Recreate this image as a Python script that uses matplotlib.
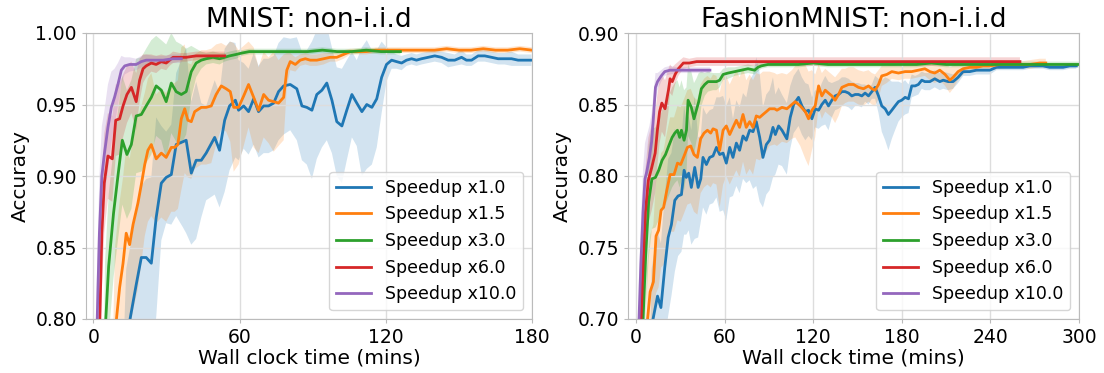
import matplotlib
matplotlib.use('Agg')
import matplotlib.pyplot as plt
import numpy as np

# ---- MNIST (non-i.i.d) : time in minutes, mean accuracy, std over runs ----
mnist_t_1 = [0, 13.5, 17.6, 19.7, 21.7, 23.8, 25.8, 27.9, 29.9, 32.0,
             34.0, 36.8, 38.1, 40.2, 42.2, 44.3, 46.3, 49.8, 51.8, 53.9,
             55.9, 58.3, 59.6, 61.7, 63.7, 65.8, 67.8, 69.9, 71.9, 74.0,
             76.0, 78.1, 80.8, 83.5, 85.6, 87.6, 89.7, 91.7, 93.8, 95.8,
             97.9, 99.9, 102.0, 104.0, 106.1, 108.1, 110.2, 112.2, 114.3, 116.3,
             118.3, 120.3, 122.4, 124.4, 126.5, 128.5, 130.6, 132.6, 134.7, 137.4,
             140.1, 142.9, 145.6, 148.3, 151.1, 153.1, 155.2, 157.9, 160.6, 163.4,
             166.1, 168.8, 171.6, 174.3, 177.0, 179.8]
mnist_acc_1 = [0.10, 0.785, 0.824, 0.843, 0.843, 0.839, 0.871, 0.895, 0.899, 0.901,
               0.922, 0.924, 0.925, 0.902, 0.911, 0.911, 0.916, 0.927, 0.918, 0.939,
               0.949, 0.953, 0.946, 0.949, 0.945, 0.954, 0.945, 0.949, 0.949, 0.951,
               0.959, 0.963, 0.964, 0.961, 0.949, 0.948, 0.946, 0.957, 0.960, 0.965,
               0.953, 0.938, 0.935, 0.946, 0.957, 0.951, 0.945, 0.950, 0.948, 0.954,
               0.969, 0.978, 0.981, 0.980, 0.979, 0.981, 0.982, 0.981, 0.982, 0.983,
               0.984, 0.983, 0.981, 0.981, 0.983, 0.981, 0.981, 0.984, 0.984, 0.983,
               0.982, 0.982, 0.982, 0.981, 0.981, 0.981]
mnist_std_1 = [0.05, 0.05, 0.05, 0.05, 0.055, 0.06, 0.07, 0.04, 0.032, 0.035,
               0.05, 0.06, 0.065, 0.05, 0.055, 0.04, 0.033, 0.04, 0.04, 0.05,
               0.045, 0.04, 0.035, 0.03, 0.03, 0.032, 0.032, 0.033, 0.033, 0.033,
               0.034, 0.034, 0.032, 0.036, 0.038, 0.04, 0.048, 0.045, 0.04, 0.04,
               0.037, 0.038, 0.04, 0.035, 0.03, 0.03, 0.045, 0.045, 0.04, 0.034,
               0.025, 0.012, 0.006, 0.005, 0.005, 0.004, 0.004, 0.004, 0.004, 0.004,
               0.004, 0.004, 0.005, 0.004, 0.005, 0.004, 0.004, 0.004, 0.004, 0.004,
               0.004, 0.004, 0.005, 0.004, 0.004, 0.004]

mnist_t_15 = [0, 8.9, 10.8, 12.2, 13.5, 14.9, 16.3, 18.3, 19.7, 21.1,
              22.4, 23.8, 25.8, 27.9, 29.9, 32.0, 33.4, 34.7, 36.1, 37.5,
              38.8, 40.2, 41.6, 44.3, 46.3, 48.4, 50.4, 52.5, 54.5, 56.2,
              57.6, 59.6, 61.7, 63.7, 65.8, 67.8, 69.9, 71.9, 74.0, 76.0,
              78.1, 79.4, 80.8, 82.9, 84.9, 87.0, 89.0, 91.7, 94.5, 97.2,
              99.9, 102.7, 105.4, 108.1, 112.0, 116.0, 120.0, 125.0, 130.0, 135.0,
              140.0, 145.0, 150.0, 155.0, 160.0, 165.0, 170.0, 175.0, 180.0]
mnist_acc_15 = [0.10, 0.79, 0.822, 0.839, 0.860, 0.852, 0.866, 0.881, 0.894, 0.908,
                0.918, 0.922, 0.912, 0.916, 0.913, 0.920, 0.920, 0.922, 0.940, 0.947,
                0.939, 0.938, 0.945, 0.948, 0.948, 0.949, 0.957, 0.963, 0.961, 0.959,
                0.948, 0.948, 0.956, 0.964, 0.955, 0.946, 0.957, 0.953, 0.952, 0.951,
                0.955, 0.974, 0.980, 0.978, 0.981, 0.982, 0.981, 0.981, 0.982, 0.983,
                0.983, 0.985, 0.987, 0.987, 0.987, 0.988, 0.988, 0.988, 0.988, 0.988,
                0.988, 0.989, 0.988, 0.988, 0.989, 0.988, 0.988, 0.989, 0.988]
mnist_std_15 = [0.06, 0.06, 0.06, 0.06, 0.06, 0.06, 0.06, 0.06, 0.055, 0.05,
                0.05, 0.05, 0.045, 0.045, 0.045, 0.045, 0.045, 0.045, 0.05, 0.045,
                0.04, 0.04, 0.04, 0.04, 0.04, 0.04, 0.035, 0.03, 0.03, 0.035,
                0.045, 0.04, 0.035, 0.03, 0.035, 0.03, 0.03, 0.03, 0.035, 0.03,
                0.03, 0.012, 0.006, 0.005, 0.004, 0.004, 0.004, 0.004, 0.004, 0.003,
                0.003, 0.003, 0.002, 0.002, 0.002, 0.002, 0.002, 0.002, 0.002, 0.002,
                0.002, 0.002, 0.002, 0.002, 0.002, 0.002, 0.002, 0.002, 0.002]

mnist_t_3 = [0, 4.8, 6.3, 8.3, 10.1, 11.9, 13.8, 15.6, 17.6, 19.7,
             21.7, 23.8, 25.8, 27.9, 29.9, 32.0, 34.0, 36.1, 38.1, 40.2,
             42.2, 44.3, 46.3, 49.1, 51.8, 53.9, 55.9, 58.6, 61.0, 64.0,
             70.0, 76.0, 82.0, 88.0, 94.0, 100.0, 106.0, 112.0, 118.0, 126.0]
mnist_acc_3 = [0.10, 0.79, 0.837, 0.874, 0.900, 0.925, 0.915, 0.922, 0.942, 0.943,
               0.949, 0.955, 0.963, 0.960, 0.952, 0.965, 0.959, 0.957, 0.959, 0.973,
               0.979, 0.981, 0.982, 0.983, 0.982, 0.983, 0.984, 0.985, 0.986, 0.987,
               0.987, 0.987, 0.987, 0.987, 0.988, 0.987, 0.987, 0.988, 0.987, 0.987]
mnist_std_3 = [0.05, 0.05, 0.05, 0.045, 0.045, 0.045, 0.045, 0.045, 0.04, 0.04,
               0.04, 0.04, 0.035, 0.035, 0.04, 0.035, 0.035, 0.035, 0.03, 0.018,
               0.01, 0.006, 0.004, 0.004, 0.004, 0.003, 0.003, 0.003, 0.002, 0.002,
               0.002, 0.002, 0.002, 0.002, 0.002, 0.002, 0.002, 0.002, 0.002, 0.002]

mnist_t_6 = [0, 2.4, 3.5, 4.5, 6.0, 7.8, 9.2, 10.8, 12.2, 13.8,
             15.6, 17.6, 19.0, 20.4, 21.7, 23.8, 25.8, 27.9, 29.9, 31.3,
             32.7, 35.5, 38.1, 42.2, 46.0, 50.0, 53.9]
mnist_acc_6 = [0.10, 0.78, 0.86, 0.895, 0.914, 0.912, 0.939, 0.940, 0.949, 0.957,
               0.962, 0.952, 0.967, 0.975, 0.977, 0.979, 0.978, 0.980, 0.979, 0.981,
               0.983, 0.983, 0.983, 0.984, 0.984, 0.984, 0.984]
mnist_std_6 = [0.04, 0.04, 0.04, 0.035, 0.03, 0.03, 0.025, 0.025, 0.022, 0.02,
               0.018, 0.02, 0.015, 0.01, 0.008, 0.006, 0.006, 0.005, 0.005, 0.004,
               0.004, 0.003, 0.003, 0.003, 0.003, 0.003, 0.003]

mnist_t_10 = [0, 1.3, 2.5, 3.5, 4.5, 6.0, 7.4, 8.7, 10.1, 11.5,
              12.9, 14.9, 17.6, 19.7, 21.7, 24.5, 28.6, 32.7, 36.1]
mnist_acc_10 = [0.10, 0.78, 0.86, 0.900, 0.915, 0.934, 0.948, 0.955, 0.964, 0.974,
                0.977, 0.978, 0.978, 0.980, 0.981, 0.981, 0.981, 0.982, 0.982]
mnist_std_10 = [0.04, 0.04, 0.04, 0.035, 0.03, 0.03, 0.025, 0.02, 0.015, 0.01,
                0.006, 0.005, 0.004, 0.004, 0.004, 0.003, 0.003, 0.003, 0.003]

# ---- FashionMNIST (non-i.i.d) ----
fmnist_t_1 = [0, 10.5, 14.5, 16.8, 19.4, 21.7, 23.9, 26.2, 28.4, 30.7,
              32.5, 34.0, 35.6, 37.4, 39.7, 42.0, 43.8, 45.3, 47.6, 49.8,
              52.1, 54.4, 56.6, 58.9, 61.1, 63.4, 65.6, 67.9, 70.1, 72.4,
              74.6, 76.9, 79.2, 81.4, 83.7, 85.9, 88.2, 90.4, 92.7, 94.3,
              96.5, 98.8, 102.1, 104.4, 106.7, 110.0, 112.3, 114.6, 116.8, 119.1,
              121.3, 123.6, 125.8, 128.1, 130.3, 132.6, 134.8, 137.1, 139.4, 141.6,
              143.9, 146.1, 148.4, 150.6, 152.9, 155.1, 157.4, 159.7, 161.9, 164.2,
              166.4, 168.7, 170.9, 173.2, 175.4, 177.7, 179.9, 182.2, 184.5, 186.7,
              189.0, 191.2, 193.5, 195.6, 199.0, 202.3, 205.7, 208.0, 211.4, 214.7,
              218.1, 221.5, 226.0, 230.5, 235.0, 239.6, 244.1, 248.6, 253.1, 257.6,
              262.1, 266.6, 271.1, 275.6, 280.1, 284.7, 289.2, 293.7, 298.2]
fmnist_acc_1 = [0.10, 0.695, 0.716, 0.708, 0.736, 0.757, 0.766, 0.783, 0.786, 0.787,
                0.804, 0.799, 0.802, 0.792, 0.806, 0.792, 0.798, 0.813, 0.808, 0.813,
                0.814, 0.820, 0.815, 0.816, 0.809, 0.820, 0.813, 0.823, 0.818, 0.828,
                0.825, 0.832, 0.831, 0.838, 0.827, 0.813, 0.822, 0.825, 0.834, 0.829,
                0.835, 0.832, 0.826, 0.841, 0.850, 0.855, 0.849, 0.845, 0.846, 0.840,
                0.847, 0.846, 0.850, 0.853, 0.849, 0.853, 0.856, 0.857, 0.859, 0.859,
                0.858, 0.856, 0.857, 0.857, 0.856, 0.858, 0.856, 0.859, 0.862, 0.856,
                0.849, 0.847, 0.843, 0.846, 0.849, 0.852, 0.853, 0.855, 0.854, 0.863,
                0.863, 0.864, 0.867, 0.866, 0.866, 0.868, 0.866, 0.867, 0.866, 0.866,
                0.869, 0.873, 0.873, 0.874, 0.874, 0.874, 0.876, 0.876, 0.876, 0.876,
                0.876, 0.877, 0.877, 0.877, 0.876, 0.876, 0.876, 0.877, 0.877]
fmnist_std_1 = [0.04, 0.04, 0.045, 0.045, 0.05, 0.055, 0.05, 0.05, 0.042, 0.04,
                0.045, 0.04, 0.04, 0.04, 0.05, 0.035, 0.03, 0.035, 0.035, 0.033,
                0.033, 0.035, 0.04, 0.04, 0.04, 0.035, 0.027, 0.03, 0.03, 0.03,
                0.03, 0.035, 0.04, 0.045, 0.045, 0.035, 0.035, 0.035, 0.035, 0.028,
                0.027, 0.025, 0.025, 0.022, 0.02, 0.02, 0.02, 0.02, 0.018, 0.015,
                0.013, 0.013, 0.015, 0.017, 0.017, 0.012, 0.01, 0.01, 0.01, 0.01,
                0.01, 0.01, 0.008, 0.008, 0.008, 0.006, 0.006, 0.005, 0.008, 0.012,
                0.018, 0.022, 0.025, 0.02, 0.017, 0.014, 0.012, 0.012, 0.01, 0.008,
                0.007, 0.007, 0.006, 0.006, 0.006, 0.006, 0.006, 0.006, 0.006, 0.005,
                0.004, 0.003, 0.003, 0.003, 0.003, 0.003, 0.002, 0.002, 0.002, 0.002,
                0.002, 0.002, 0.002, 0.002, 0.002, 0.002, 0.002, 0.002, 0.002]

fmnist_t_15 = [0, 7.3, 9.5, 11.7, 13.5, 15.2, 16.9, 18.6, 20.8, 23.0,
               25.7, 28.0, 30.2, 32.5, 34.7, 37.0, 39.2, 41.5, 43.7, 46.0,
               48.3, 50.5, 52.1, 54.4, 56.6, 58.9, 61.1, 63.4, 65.6, 67.9,
               70.1, 72.4, 74.6, 76.9, 79.2, 81.4, 83.7, 85.9, 88.2, 90.4,
               93.8, 95.4, 98.8, 102.1, 105.5, 107.8, 111.2, 114.6, 116.8, 119.1,
               121.3, 123.6, 125.8, 128.1, 130.3, 132.6, 134.8, 137.1, 139.4, 141.6,
               143.9, 147.3, 150.6, 154.0, 157.4, 159.7, 161.9, 164.2, 166.4, 169.8,
               173.2, 177.7, 182.2, 186.7, 191.2, 195.6, 199.0, 202.3, 205.7, 209.3,
               212.5, 214.7, 218.1, 221.5, 226.0, 230.5, 235.0, 239.6, 246.3, 253.1,
               259.9, 266.6, 273.4, 277.5]
fmnist_acc_15 = [0.10, 0.695, 0.719, 0.726, 0.758, 0.762, 0.776, 0.778, 0.790, 0.801,
                 0.801, 0.809, 0.808, 0.814, 0.820, 0.821, 0.815, 0.813, 0.826, 0.830,
                 0.832, 0.830, 0.833, 0.832, 0.818, 0.832, 0.835, 0.829, 0.834, 0.839,
                 0.834, 0.843, 0.834, 0.838, 0.834, 0.842, 0.841, 0.843, 0.845, 0.847,
                 0.847, 0.846, 0.848, 0.847, 0.850, 0.852, 0.849, 0.845, 0.840, 0.846,
                 0.849, 0.863, 0.856, 0.860, 0.858, 0.856, 0.853, 0.857, 0.862, 0.863,
                 0.864, 0.864, 0.862, 0.861, 0.863, 0.861, 0.860, 0.864, 0.870, 0.871,
                 0.873, 0.872, 0.873, 0.873, 0.874, 0.875, 0.873, 0.872, 0.874, 0.871,
                 0.867, 0.869, 0.873, 0.875, 0.876, 0.876, 0.877, 0.877, 0.878, 0.878,
                 0.878, 0.878, 0.879, 0.879]
fmnist_std_15 = [0.04, 0.04, 0.04, 0.04, 0.04, 0.04, 0.04, 0.04, 0.04, 0.04,
                 0.04, 0.04, 0.04, 0.04, 0.04, 0.04, 0.04, 0.04, 0.038, 0.038,
                 0.038, 0.038, 0.038, 0.038, 0.04, 0.038, 0.035, 0.035, 0.035, 0.035,
                 0.035, 0.033, 0.033, 0.033, 0.033, 0.03, 0.03, 0.03, 0.028, 0.026,
                 0.025, 0.025, 0.024, 0.024, 0.024, 0.025, 0.028, 0.033, 0.033, 0.028,
                 0.022, 0.015, 0.016, 0.015, 0.015, 0.015, 0.016, 0.015, 0.013, 0.012,
                 0.012, 0.012, 0.012, 0.012, 0.011, 0.011, 0.011, 0.01, 0.007, 0.006,
                 0.005, 0.005, 0.005, 0.005, 0.005, 0.005, 0.006, 0.007, 0.007, 0.008,
                 0.009, 0.008, 0.006, 0.004, 0.003, 0.003, 0.003, 0.003, 0.003, 0.002,
                 0.002, 0.003, 0.003, 0.003]

fmnist_t_3 = [0, 4.5, 6.5, 8.5, 10.7, 13.1, 15.3, 17.6, 19.9, 22.1,
              24.4, 26.2, 28.0, 29.5, 30.7, 32.5, 34.1, 35.2, 37.4, 39.2,
              40.8, 42.4, 44.2, 46.5, 48.7, 52.1, 54.4, 56.6, 58.9, 62.3,
              66.8, 71.3, 75.8, 80.3, 82.5, 84.8, 89.3, 100, 110, 120,
              130, 140, 150, 160, 170, 180, 190, 200, 210, 220,
              230, 240, 250, 260, 270, 280, 290, 300]
fmnist_acc_3 = [0.10, 0.695, 0.745, 0.782, 0.798, 0.799, 0.804, 0.811, 0.815, 0.821,
                0.827, 0.830, 0.832, 0.827, 0.832, 0.825, 0.832, 0.853, 0.848, 0.840,
                0.846, 0.852, 0.861, 0.864, 0.866, 0.866, 0.866, 0.867, 0.871, 0.872,
                0.873, 0.874, 0.875, 0.874, 0.876, 0.877, 0.878, 0.878, 0.878, 0.879,
                0.878, 0.878, 0.878, 0.878, 0.878, 0.878, 0.878, 0.879, 0.878, 0.878,
                0.878, 0.878, 0.878, 0.878, 0.878, 0.878, 0.878, 0.878]
fmnist_std_3 = [0.04, 0.04, 0.04, 0.04, 0.035, 0.035, 0.035, 0.035, 0.035, 0.035,
                0.035, 0.035, 0.035, 0.035, 0.035, 0.035, 0.03, 0.025, 0.025, 0.025,
                0.022, 0.02, 0.012, 0.008, 0.007, 0.006, 0.006, 0.005, 0.004, 0.004,
                0.003, 0.003, 0.003, 0.003, 0.003, 0.002, 0.002, 0.002, 0.002, 0.002,
                0.002, 0.002, 0.002, 0.002, 0.002, 0.002, 0.002, 0.002, 0.002, 0.002,
                0.002, 0.002, 0.002, 0.002, 0.002, 0.002, 0.002, 0.002]

fmnist_t_6 = [0, 3.2, 4.7, 6.3, 8.3, 10.6, 12.9, 14.4, 15.9, 17.4,
              19.6, 21.9, 23.0, 24.5, 26.4, 28.6, 32.0, 36.0, 41.0, 50,
              60, 70, 80, 90, 100, 110, 120, 130, 140, 150,
              160, 170, 180, 190, 200, 210, 220, 230, 240, 250,
              260]
fmnist_acc_6 = [0.10, 0.695, 0.738, 0.775, 0.797, 0.806, 0.816, 0.832, 0.845, 0.851,
                0.847, 0.860, 0.868, 0.866, 0.871, 0.875, 0.879, 0.879, 0.880, 0.880,
                0.880, 0.880, 0.880, 0.880, 0.880, 0.880, 0.880, 0.880, 0.880, 0.880,
                0.880, 0.880, 0.880, 0.880, 0.880, 0.880, 0.880, 0.880, 0.880, 0.880,
                0.880]
fmnist_std_6 = [0.03, 0.03, 0.03, 0.03, 0.03, 0.03, 0.028, 0.025, 0.022, 0.02,
                0.02, 0.015, 0.01, 0.01, 0.007, 0.005, 0.004, 0.003, 0.003, 0.003,
                0.003, 0.003, 0.003, 0.003, 0.003, 0.003, 0.003, 0.003, 0.003, 0.003,
                0.003, 0.003, 0.003, 0.003, 0.003, 0.003, 0.003, 0.003, 0.003, 0.003,
                0.003]

fmnist_t_10 = [0, 1.8, 3.2, 4.7, 6.0, 7.2, 9.0, 10.5, 12.0, 13.1,
               14.5, 17.0, 19.4, 23.0, 28.0, 35.0, 42.0, 50.0]
fmnist_acc_10 = [0.10, 0.695, 0.738, 0.775, 0.798, 0.803, 0.813, 0.824, 0.845, 0.862,
                 0.866, 0.870, 0.873, 0.874, 0.874, 0.874, 0.874, 0.874]
fmnist_std_10 = [0.03, 0.03, 0.03, 0.03, 0.025, 0.025, 0.022, 0.02, 0.015, 0.01,
                 0.006, 0.004, 0.003, 0.003, 0.002, 0.002, 0.002, 0.002]

labels = ['Speedup x1.0', 'Speedup x1.5', 'Speedup x3.0', 'Speedup x6.0', 'Speedup x10.0']


def draw(ax, runs, title, xlim, ylim, xticks, yticks):
    for (t, acc, std), lab in zip(runs, labels):
        t, acc, std = np.array(t), np.array(acc), np.array(std)
        line, = ax.plot(t, acc, linewidth=2, label=lab)
        ax.fill_between(t, acc - std, acc + std, color=line.get_color(), alpha=0.2, linewidth=0)
    ax.set_title(title, fontsize=19, pad=4)
    ax.set_xlabel('Wall clock time (mins)', fontsize=14.5, labelpad=1)
    ax.set_ylabel('Accuracy', fontsize=14.5)
    ax.set_xlim(xlim)
    ax.set_ylim(ylim)
    ax.set_xticks(xticks)
    ax.set_yticks(yticks)
    ax.tick_params(labelsize=13.5, length=3, color='#bbbbbb')
    ax.grid(True, color='#dddddd', linewidth=1)
    for s in ax.spines.values():
        s.set_color('#bbbbbb')
    ax.legend(loc='lower right', fontsize=12.5)


fig = plt.figure(figsize=(11.04, 3.73), dpi=100)
ax1 = fig.add_axes([86 / 1104, 54 / 373, 446 / 1104, 286 / 373])
ax2 = fig.add_axes([628 / 1104, 54 / 373, 451 / 1104, 286 / 373])

mnist_runs = [(mnist_t_1, mnist_acc_1, mnist_std_1),
              (mnist_t_15, mnist_acc_15, mnist_std_15),
              (mnist_t_3, mnist_acc_3, mnist_std_3),
              (mnist_t_6, mnist_acc_6, mnist_std_6),
              (mnist_t_10, mnist_acc_10, mnist_std_10)]
fmnist_runs = [(fmnist_t_1, fmnist_acc_1, fmnist_std_1),
               (fmnist_t_15, fmnist_acc_15, fmnist_std_15),
               (fmnist_t_3, fmnist_acc_3, fmnist_std_3),
               (fmnist_t_6, fmnist_acc_6, fmnist_std_6),
               (fmnist_t_10, fmnist_acc_10, fmnist_std_10)]

draw(ax1, mnist_runs, 'MNIST: non-i.i.d', (-3, 180), (0.80, 1.00),
     [0, 60, 120, 180], [0.80, 0.85, 0.90, 0.95, 1.00])
draw(ax2, fmnist_runs, 'FashionMNIST: non-i.i.d', (-5.5, 300), (0.70, 0.90),
     [0, 60, 120, 180, 240, 300], [0.70, 0.75, 0.80, 0.85, 0.90])

fig.savefig('out.png', dpi=100)
